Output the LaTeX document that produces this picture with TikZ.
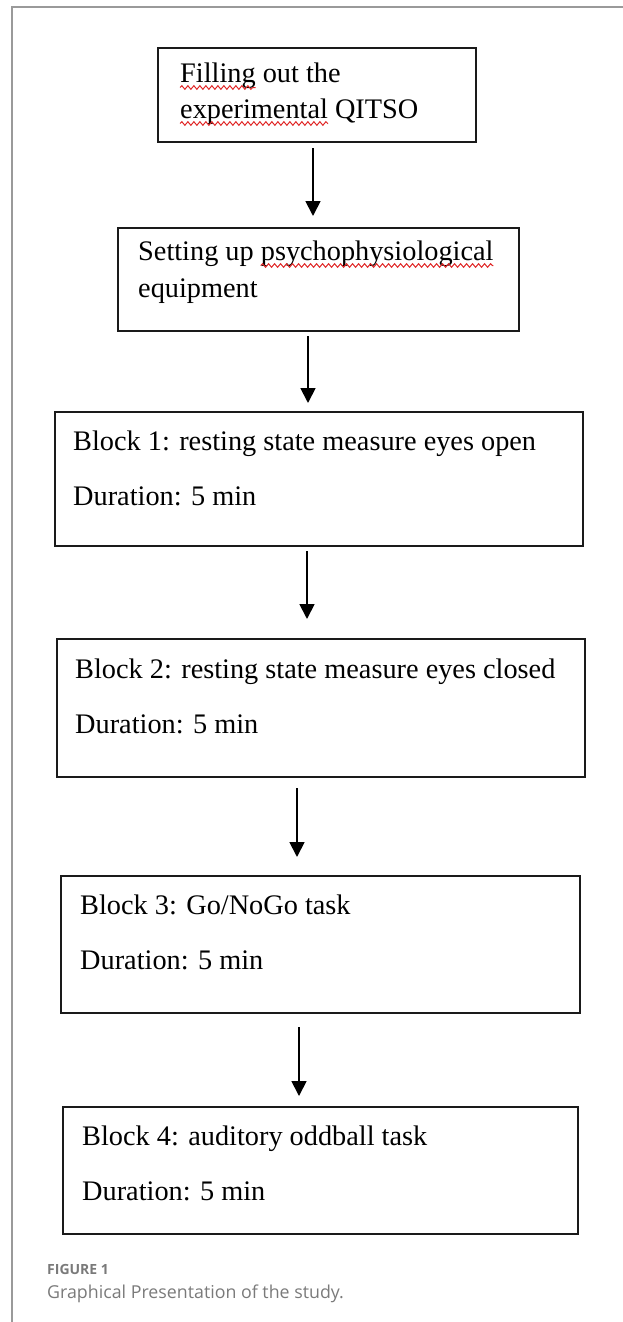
\documentclass[tikz,border=0pt]{standalone}
\usepackage{fontspec}
\setmainfont{Liberation Serif}
\newfontfamily\capfont{Open Sans}
\usetikzlibrary{arrows.meta, decorations.pathmorphing}
\definecolor{inkblack}{HTML}{1A1A1A}
\definecolor{framegray}{HTML}{9A9A9A}
\definecolor{capgray}{HTML}{7A7A7A}
\definecolor{spellred}{HTML}{E02424}

\begin{document}
\begin{tikzpicture}[
  x=1pt, y=-1pt,
  >={Triangle[length=15pt, width=15pt]},
  stagebox/.style={
    draw=inkblack, line width=2pt, fill=white,
    inner sep=0pt
  },
  stagetext/.style={
    anchor=base west, inner sep=0pt, text=black,
    font=\fontsize{28.3}{34}\selectfont
  },
  arr/.style={->, line width=1.8pt, black},
  frame/.style={draw=framegray, line width=1.4pt},
  spell/.style={draw=spellred, line width=1pt,
    decorate, decoration={snake, amplitude=1.8pt, segment length=6pt}},
]

% Page frame
\useasboundingbox (0,0) rectangle (623,1322);
\draw[frame] (12,1322) -- (12,7) -- (623,7);

% ===== Stage boxes =====

% Questionnaire
\node[stagebox, minimum width=318pt, minimum height=94pt] (fill) at (317,95) {};
\node[stagetext] (fillA) at (180,82) {Filling out the};
\node[stagetext] (fillB) at (180,118) {experimental QITSO};

% Equipment
\node[stagebox, minimum width=401pt, minimum height=103pt] (setup) at (318.5,279.5) {};
\node[stagetext] (setupA) at (138,260) {Setting up psychophysiological};
\node[stagetext] (setupB) at (138,297) {equipment};

% Block 1
\node[stagebox, minimum width=528pt, minimum height=134pt] (blockA) at (319,479) {};
\node[stagetext] (blockAtask) at (73,450) {Block 1: resting state measure eyes open};
\node[stagetext] (blockAtime) at (73,505) {Duration: 5 min};

% Block 2
\node[stagebox, minimum width=528pt, minimum height=138pt] (blockB) at (321,708) {};
\node[stagetext] (blockBtask) at (75,678) {Block 2: resting state measure eyes closed};
\node[stagetext] (blockBtime) at (75,733) {Duration: 5 min};

% Block 3
\node[stagebox, minimum width=519pt, minimum height=137pt] (blockC) at (320.5,944.5) {};
\node[stagetext] (blockCtask) at (80,914) {Block 3: Go/NoGo task};
\node[stagetext] (blockCtime) at (80,969) {Duration: 5 min};

% Block 4
\node[stagebox, minimum width=515pt, minimum height=127pt] (blockD) at (320.5,1170.5) {};
\node[stagetext] (blockDtask) at (82,1145) {Block 4: auditory oddball task};
\node[stagetext] (blockDtime) at (82,1200) {Duration: 5 min};

% spell-check squiggles
\draw[spell] ([yshift=-5.5pt]fillA.base west) -- ++(75.5,0);
\draw[spell] ([yshift=-5.5pt]fillB.base west) -- ++(148,0);
\draw[spell] ([xshift=122.7pt,yshift=-5.5pt]setupA.base west) -- ++(232.7,0);

% ===== Arrows =====
\draw[arr] ([xshift=-4pt,yshift=-5pt]fill.south) -- ([xshift=-5.5pt,yshift=11pt]setup.north);
\draw[arr] ([xshift=-10.5pt,yshift=-4pt]setup.south) -- ([xshift=-11pt,yshift=8pt]blockA.north);
\draw[arr] ([xshift=-12pt,yshift=-4pt]blockA.south) -- ([xshift=-14pt,yshift=19pt]blockB.north);
\draw[arr] ([xshift=-24pt,yshift=-10pt]blockB.south) -- ([xshift=-23.5pt,yshift=18pt]blockC.north);
\draw[arr] ([xshift=-21.5pt,yshift=-13pt]blockC.south) -- ([xshift=-21.5pt,yshift=10pt]blockD.north);

% ===== Caption =====
\node[anchor=base west, inner sep=0pt, text=capgray,
      font=\capfont\bfseries\fontsize{14}{16}\selectfont] (capnum) at (47,1274) {FIGURE 1};
\node[anchor=base west, inner sep=0pt, text=capgray,
      font=\capfont\fontsize{17.8}{21}\selectfont] (captext) at (47,1298)
  {Graphical Presentation of the study.};

\end{tikzpicture}
\end{document}
